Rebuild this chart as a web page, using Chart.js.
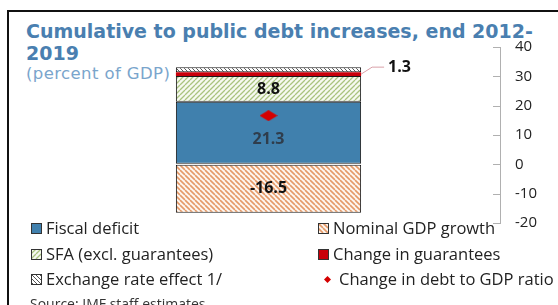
<!DOCTYPE html>
<html>
<head>
<meta charset="utf-8">
<script src="https://cdn.jsdelivr.net/npm/chart.js@4.4.1/dist/chart.umd.min.js"></script>
<style>
  html, body { margin: 0; padding: 0; background: #fff; }
  body { width: 558px; height: 305px; position: relative; overflow: hidden; font-family: "Open Sans", sans-serif; }
  #frame { position: absolute; left: 7px; top: 10px; width: 600px; height: 400px; border-top: 2px solid #111; border-left: 2px solid #111; }
  #title { position: absolute; left: 26px; top: 20px; font-family: "DejaVu Sans", sans-serif; font-weight: bold; font-size: 19px; line-height: 22px; color: #4a7fb0; white-space: nowrap; }
  #subtitle { position: absolute; left: 26px; top: 64px; font-family: "DejaVu Sans", sans-serif; font-size: 16.5px; letter-spacing: 0.4px; color: #7aa5cc; white-space: nowrap; }
  #c { position: absolute; left: 0; top: 0; }
  .lg { position: absolute; font-size: 16.5px; color: #222; white-space: nowrap; line-height: 20px; }
  .lg canvas { position: absolute; }
  #source { position: absolute; left: 30px; top: 295px; font-size: 14px; line-height: 18px; color: #333; white-space: nowrap; }
</style>
</head>
<body>
<div id="frame"></div>
<div id="title">Cumulative to public debt increases, end 2012-<br>2019</div>
<div id="subtitle">(percent of GDP)</div>
<canvas id="c" width="558" height="305"></canvas>
<div id="legend"></div>
<div id="source">Source: IMF staff estimates.</div>
<script>
// ----- Data -----
const categories = ["End 2012-2019"];
const fiscalDeficit = [21.3];
const sfaExclGuarantees = [8.8];
const changeInGuarantees = [1.3];
const exchangeRateEffect = [1.7];
const nominalGdpGrowth = [-16.5];
const changeInDebtRatio = [16.6];
const yTicks = [-20, -10, 0, 10, 20, 30, 40];

// ----- Patterns -----
function hatch(bg, fg, dir, size, lw) {
  const c = document.createElement("canvas");
  c.width = size;
  c.height = size;
  const x = c.getContext("2d");
  x.fillStyle = bg;
  x.fillRect(0, 0, size, size);
  x.strokeStyle = fg;
  x.lineWidth = lw;
  x.beginPath();
  for (let k = -1; k <= 1; k++) {
    if (dir === "\\") {
      x.moveTo(k * size, 0);
      x.lineTo(k * size + size, size);
    } else {
      x.moveTo(k * size, size);
      x.lineTo(k * size + size, 0);
    }
  }
  x.stroke();
  return x.createPattern(c, "repeat");
}

const ctx = document.getElementById("c").getContext("2d");
const blue = "#4080ad";
const red = "#c8000a";
const greenHatch = hatch("#f6f9f0", "#a9c37f", "/", 5, 1.3);
const erHatch = hatch("#ffffff", "#555555", "\\", 4, 1);
const orangeHatch = hatch("#fdf6f0", "#e59a68", "\\", 5, 1.6);

// flattened diamond marker
function diamond(w, h) {
  const c = document.createElement("canvas");
  c.width = w;
  c.height = h;
  const x = c.getContext("2d");
  x.fillStyle = "#d40000";
  x.beginPath();
  x.moveTo(w / 2, 0);
  x.lineTo(w, h / 2);
  x.lineTo(w / 2, h);
  x.lineTo(0, h / 2);
  x.closePath();
  x.fill();
  return c;
}

const series = [
  { label: "Fiscal deficit", data: fiscalDeficit, fill: blue },
  { label: "SFA (excl. guarantees)", data: sfaExclGuarantees, fill: greenHatch },
  { label: "Change in guarantees", data: changeInGuarantees, fill: red },
  { label: "Exchange rate effect 1/", data: exchangeRateEffect, fill: erHatch },
  { label: "Nominal GDP growth", data: nominalGdpGrowth, fill: orangeHatch },
];

const datasets = series.map((s) => ({
  type: "bar",
  label: s.label,
  data: s.data,
  backgroundColor: s.fill,
  borderColor: "#1a1a1a",
  borderWidth: s.fill === red ? 0 : 1,
  borderSkipped: false,
  barPercentage: 1,
  categoryPercentage: 0.4,
  stack: "debt",
  order: 1,
}));
datasets.push({
  type: "line",
  label: "Change in debt to GDP ratio",
  data: changeInDebtRatio,
  showLine: false,
  pointStyle: diamond(18, 11),
  stack: "ratio",
  order: 0,
});

// ----- Plugins -----
const inwardTicks = {
  id: "inwardTicks",
  afterDraw(chart) {
    const s = chart.scales.y;
    const c = chart.ctx;
    c.save();
    c.strokeStyle = "#b0b0b0";
    c.lineWidth = 1;
    c.beginPath();
    yTicks.forEach((v) => {
      const y = Math.round(s.getPixelForValue(v)) + 0.5;
      c.moveTo(s.left - 7, y);
      c.lineTo(s.left, y);
    });
    c.stroke();
    c.restore();
  },
};

const barLabels = {
  id: "barLabels",
  afterDatasetsDraw(chart) {
    const c = chart.ctx;
    c.save();
    c.font = "bold 16px 'Open Sans'";
    c.textAlign = "center";
    c.textBaseline = "middle";
    [0, 1, 4].forEach((i) => {
      const el = chart.getDatasetMeta(i).data[0];
      const cy = (el.y + el.base) / 2 + (i === 0 ? 7 : 0);
      c.fillStyle = i === 0 ? "#2f3d4c" : "#111";
      c.fillText(datasets[i].data[0].toFixed(1), el.x, cy);
    });
    // leader label for guarantees
    const g = chart.getDatasetMeta(2).data[0];
    const gy = (g.y + g.base) / 2;
    const right = g.x + g.width / 2;
    c.strokeStyle = "#d9a0a8";
    c.lineWidth = 1;
    c.beginPath();
    c.moveTo(right, gy);
    c.lineTo(right + 11, gy - 7);
    c.lineTo(right + 23, gy - 7);
    c.stroke();
    c.textAlign = "left";
    c.fillStyle = "#111";
    c.fillText(changeInGuarantees[0].toFixed(1), right + 27, gy - 7);
    c.restore();
  },
};

new Chart(ctx, {
  data: { labels: categories, datasets: datasets },
  options: {
    responsive: false,
    animation: false,
    layout: { padding: { left: 37, top: 47, right: 0, bottom: 82 } },
    plugins: { legend: { display: false }, tooltip: { enabled: false } },
    scales: {
      x: { display: false, stacked: true },
      y: {
        position: "right",
        stacked: true,
        min: -20,
        max: 40,
        afterFit: (s) => { s.width = 58; },
        afterBuildTicks: (s) => { s.ticks = yTicks.map((v) => ({ value: v })); },
        grid: { drawOnChartArea: false, drawTicks: false },
        border: { display: true, color: "#b0b0b0" },
        ticks: { padding: 15, color: "#222", font: { family: "Open Sans", size: 15 } },
      },
    },
  },
  plugins: [inwardTicks, barLabels],
});

// ----- Legend -----
const legendItems = [
  { name: series[0].label, fill: blue, col: 0, row: 0 },
  { name: series[1].label, fill: greenHatch, col: 0, row: 1 },
  { name: series[3].label, fill: erHatch, col: 0, row: 2 },
  { name: series[4].label, fill: orangeHatch, col: 1, row: 0 },
  { name: series[2].label, fill: red, col: 1, row: 1 },
  { name: "Change in debt to GDP ratio", fill: "diamond", col: 1, row: 2 },
];
const legendEl = document.getElementById("legend");
legendItems.forEach((it) => {
  const d = document.createElement("div");
  d.className = "lg";
  const isDiamond = it.fill === "diamond";
  d.style.left = (it.col === 0 ? 46 : isDiamond ? 339 : 333) + "px";
  d.style.top = 218 + it.row * 25.5 + "px";
  const sw = document.createElement("canvas");
  sw.width = 11;
  sw.height = 11;
  const x = sw.getContext("2d");
  if (isDiamond) {
    sw.style.left = "-17px";
    sw.style.top = "5px";
    x.fillStyle = "#d40000";
    x.beginPath();
    x.moveTo(5.5, 2);
    x.lineTo(9, 5.5);
    x.lineTo(5.5, 9);
    x.lineTo(2, 5.5);
    x.closePath();
    x.fill();
  } else {
    sw.style.left = "-15px";
    sw.style.top = "5px";
    x.fillStyle = it.fill;
    x.fillRect(0, 0, 11, 11);
    x.strokeStyle = "#333";
    x.lineWidth = 1;
    x.strokeRect(0.5, 0.5, 10, 10);
  }
  d.appendChild(sw);
  d.appendChild(document.createTextNode(it.name));
  legendEl.appendChild(d);
});
</script>
</body>
</html>
